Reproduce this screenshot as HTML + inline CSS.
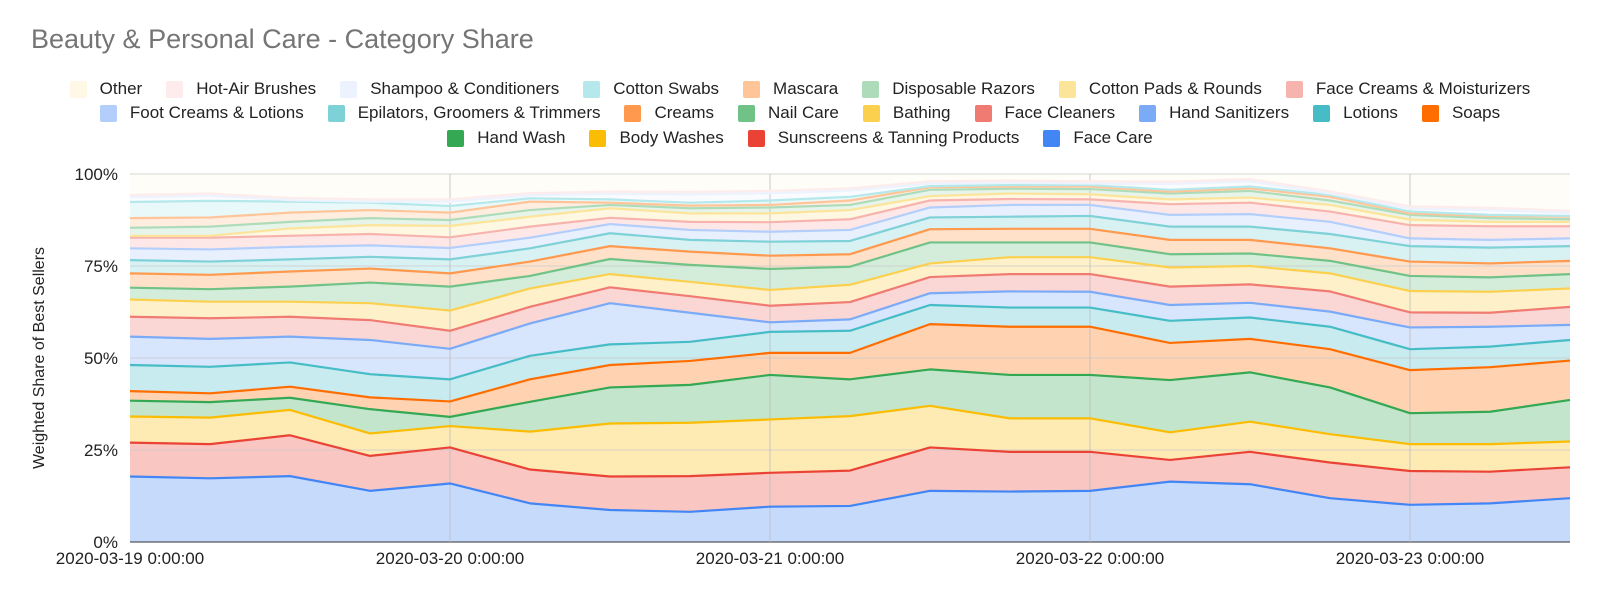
<!DOCTYPE html>
<html><head><meta charset="utf-8">
<style>
html,body{margin:0;padding:0;background:#fff;width:1600px;height:599px;overflow:hidden;font-family:"Liberation Sans",Arial,sans-serif;}
#title{position:absolute;left:31px;top:24px;font-size:27px;color:#757575;white-space:nowrap;}
.lrow{position:absolute;left:0;width:1600px;display:flex;justify-content:center;font-size:17px;color:#222;white-space:nowrap;}
.li{display:flex;align-items:center;margin:0 12px;}
.sw{width:17px;height:17px;border-radius:2px;margin-right:13px;}
svg{position:absolute;left:0;top:0;}
</style></head><body>
<div id="title">Beauty &amp; Personal Care - Category Share</div>
<div id="legend"></div>
<svg id="chart" width="1600" height="599"></svg>
<script>
const categories = ["2020-03-19 0:00","06:00","12:00","18:00","2020-03-20 0:00","06:00","12:00","18:00","2020-03-21 0:00","06:00","12:00","18:00","2020-03-22 0:00","06:00","12:00","18:00","2020-03-23 0:00","06:00","12:00"];
const seriesNames = ["Face Care","Sunscreens & Tanning Products","Body Washes","Hand Wash","Soaps","Lotions","Hand Sanitizers","Face Cleaners","Bathing","Nail Care","Creams","Epilators, Groomers & Trimmers","Foot Creams & Lotions","Face Creams & Moisturizers","Cotton Pads & Rounds","Disposable Razors","Mascara","Cotton Swabs","Shampoo & Conditioners","Hot-Air Brushes","Other"];
const seriesColors = ["#4285f4","#ea4335","#fbbc04","#34a853","#ff6d01","#46bdc6","#7baaf7","#f07b72","#fcd04f","#71c287","#ff994d","#7ed1d7","#b3cefb","#f7b4ae","#fde49b","#aedcba","#ffc599","#b5e8eb","#ecf3fe","#fdeceb","#fff8e6"];
const faceCare   = [17.8,17.3,17.9,13.9,15.9,10.5,8.7,8.2,9.6,9.8,13.9,13.7,13.9,16.4,15.7,11.9,10.1,10.5,11.9];
const sunscreens = [9.2,9.3,11.1,9.5,9.8,9.2,9.1,9.7,9.2,9.6,11.8,10.8,10.6,5.9,8.8,9.7,9.2,8.6,8.4];
const bodyWashes = [7.1,7.2,6.9,6.1,5.8,10.3,14.4,14.5,14.5,14.8,11.3,9.1,9.1,7.5,8.2,7.7,7.3,7.5,7.0];
const handWash   = [4.3,4.2,3.3,6.6,2.5,8.1,9.8,10.3,12.1,10.0,9.9,11.8,11.8,14.2,13.4,12.7,8.4,8.8,11.3];
const soaps      = [2.6,2.4,3.0,3.2,4.2,6.1,6.1,6.5,6.0,7.2,12.3,13.1,13.1,10.1,9.1,10.4,11.7,12.1,10.7];
const lotions    = [7.1,7.2,6.6,6.3,6.0,6.4,5.6,5.2,5.7,6.0,5.2,5.2,5.2,6.0,5.8,6.1,5.7,5.6,5.6];
const sanitizers = [7.7,7.6,7.0,9.3,8.3,8.8,11.2,7.9,2.6,3.1,3.2,4.4,4.3,4.3,4.0,4.1,5.9,5.4,4.1];
const faceCleaners=[5.4,5.6,5.4,5.4,4.9,4.5,4.3,4.5,4.5,4.7,4.4,4.7,4.8,5.0,5.0,5.5,4.1,3.8,4.9];
const bathing    = [4.7,4.5,4.1,4.6,5.5,5.0,3.6,3.9,4.3,4.7,3.7,4.6,4.6,5.2,5.0,4.9,5.8,5.7,5.0];
const nailCare   = [3.2,3.4,4.1,5.6,6.5,3.4,4.1,4.6,5.7,4.9,5.7,4.0,4.0,3.6,3.4,3.4,4.1,3.9,3.9];
const creams     = [3.9,3.9,4.1,3.8,3.6,3.9,3.5,3.6,3.6,3.4,3.6,3.7,3.7,3.9,3.7,3.4,3.9,3.8,3.6];
const epilators  = [3.6,3.6,3.3,3.2,3.8,3.6,3.5,3.2,3.8,3.6,3.2,3.3,3.5,3.6,3.6,3.9,4.2,4.3,4.0];
const footCreams = [3.2,3.3,3.4,3.1,3.1,2.9,2.5,2.7,2.7,3.0,2.7,3.2,3.0,3.2,3.4,3.3,2.1,2.1,2.1];
const faceCreams = [2.9,3.2,3.0,3.1,2.9,3.0,1.7,2.2,2.6,2.9,1.9,1.6,1.5,2.9,3.1,2.8,3.6,3.7,3.3];
const cottonPads = [0.5,0.5,2.0,2.4,3.1,2.7,2.6,2.3,2.4,2.5,1.2,1.5,1.4,1.3,1.4,1.8,1.5,1.2,1.2];
const razors     = [2.2,2.5,1.8,1.9,1.6,1.8,0.9,1.4,1.6,1.4,1.7,1.3,1.4,1.6,1.8,1.2,1.3,1.0,0.7];
const mascara    = [2.6,2.5,2.5,2.2,2.0,2.3,0.6,0.7,0.7,1.2,0.7,0.6,0.7,0.5,0.7,1.0,0.4,0.6,0.7];
const cottonSwabs= [4.4,4.5,3.0,2.0,1.8,0.9,0.9,0.8,1.2,1.0,0.3,0.4,0.4,0.5,0.5,0.5,0.5,0.3,0.2];
const shampoo    = [1.3,1.4,0.4,0.3,1.2,0.8,1.5,2.3,2.0,1.7,0.7,0.6,0.4,1.6,1.4,0.4,0.8,1.3,0.8];
const hotAir     = [0.6,0.6,0.6,0.6,0.6,0.6,0.6,0.6,0.6,0.6,0.6,0.6,0.6,0.6,0.6,0.6,0.6,0.6,0.6];
const other      = [5.7,5.3,6.6,7.2,6.8,5.3,4.6,4.8,4.5,3.9,2.1,1.8,2.1,2.1,1.2,4.8,8.8,9.2,10.1];
const yTicks = [0,25,50,75,100];
const yTickLabels = ["0%","25%","50%","75%","100%"];
const xTickIdx = [0,4,8,12,16];
const xTickLabels = ["2020-03-19 0:00:00","2020-03-20 0:00:00","2020-03-21 0:00:00","2020-03-22 0:00:00","2020-03-23 0:00:00"];
const seriesData = [faceCare,sunscreens,bodyWashes,handWash,soaps,lotions,sanitizers,faceCleaners,bathing,nailCare,creams,epilators,footCreams,faceCreams,cottonPads,razors,mascara,cottonSwabs,shampoo,hotAir,other];

const L=130,R=1570,T=174,B=542;
const NS="http://www.w3.org/2000/svg";
const svg=document.getElementById('chart');
function xs(i){return L+(R-L)*i/(categories.length-1);}
function ys(v){return B-(B-T)*Math.min(v,100)/100;}
function mk(tag,attrs,parent){const e=document.createElementNS(NS,tag);for(const k in attrs)e.setAttribute(k,attrs[k]);(parent||svg).appendChild(e);return e;}

// stacked cumulative
const cum=[];let prev=categories.map(()=>0);
seriesData.forEach(s=>{const c=s.map((v,i)=>prev[i]+v);cum.push({lo:prev,hi:c});prev=c;});
// areas
const areas=mk('g',{});


cum.forEach((c,k)=>{
  let d='';
  c.hi.forEach((v,i)=>{d+=(i?'L':'M')+xs(i)+' '+ys(v)+' ';});
  for(let i=c.lo.length-1;i>=0;i--)d+='L'+xs(i)+' '+ys(c.lo[i])+' ';
  const p=mk('path',{d:d+'Z',fill:seriesColors[k],'fill-opacity':0.3,stroke:'none'},areas);
  
  
});
// grid
yTicks.forEach((t,j)=>{
  const g=mk('line',{x1:L,x2:R,y1:ys(t),y2:ys(t),stroke:t===0?'#333':'#ccc','stroke-width':1,'stroke-opacity':t===0?1:0.8});
  
  
  const tx=mk('text',{x:118,y:ys(t)+6,'text-anchor':'end','font-size':17,fill:'#222'});
  tx.textContent=yTickLabels[j];
  
  
});
xTickIdx.forEach((ix,j)=>{
  if(ix>0){const g=mk('line',{x1:xs(ix),x2:xs(ix),y1:T,y2:B,stroke:'#bbb','stroke-width':1,'stroke-opacity':0.8});
  
  }
  const tx=mk('text',{x:xs(ix),y:564,'text-anchor':'middle','font-size':17,fill:'#222'});
  tx.textContent=xTickLabels[j];
  
  
});
// lines
cum.forEach((c,k)=>{
  let d='';c.hi.forEach((v,i)=>{d+=(i?'L':'M')+xs(i)+' '+ys(v)+' ';});
  if(k===cum.length-1)return;
  const p=mk('path',{d:d,fill:'none',stroke:seriesColors[k],'stroke-width':2.2,'stroke-linejoin':'round'});
  
  
});
const yt=mk('text',{x:0,y:0,transform:'translate(44,358) rotate(-90)','text-anchor':'middle','font-size':16,fill:'#222'});
yt.textContent='Weighted Share of Best Sellers';



// legend
const rows=[[20,19,18,17,16,15,14,13],[12,11,10,9,8,7,6,5,4],[3,2,1,0]];
const rowTop=[79,103,128];
const leg=document.getElementById('legend');
rows.forEach((r,ri)=>{
  const row=document.createElement('div');row.className='lrow';row.style.top=rowTop[ri]+'px';
  
  
  r.forEach(k=>{
    const it=document.createElement('div');it.className='li';
    
    
    const sw=document.createElement('div');sw.className='sw';sw.style.background=seriesColors[k];
    
    
    const t=document.createElement('span');t.textContent=seriesNames[k];
    
    
    it.appendChild(sw);it.appendChild(t);row.appendChild(it);
  });
  leg.appendChild(row);
});
</script>
</body></html>
